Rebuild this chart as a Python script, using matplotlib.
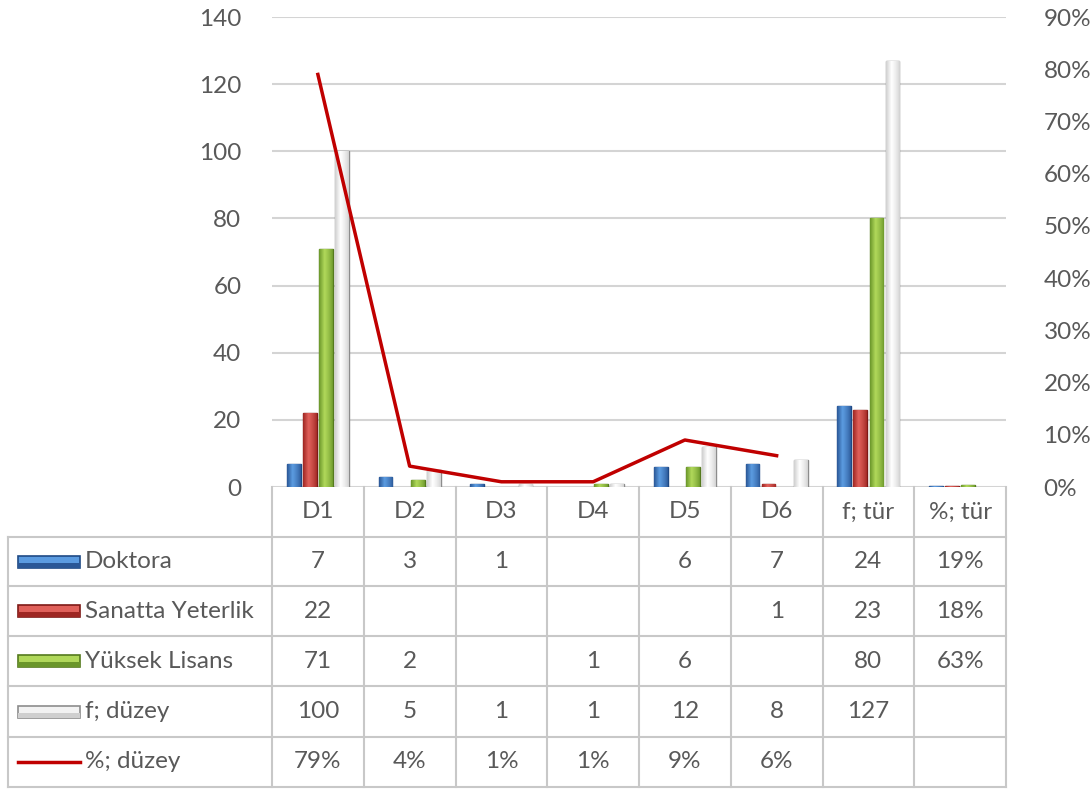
import matplotlib
matplotlib.use("Agg")
import matplotlib.pyplot as plt
from matplotlib.lines import Line2D
from matplotlib.patches import Rectangle
from matplotlib.colors import LinearSegmentedColormap
import numpy as np

categories = ["D1", "D2", "D3", "D4", "D5", "D6", "f; tür", "%; tür"]
doktora = [7, 3, 1, None, 6, 7, 24, 0.19]
sanatta = [22, None, None, None, None, 1, 23, 0.18]
yuksek = [71, 2, None, 1, 6, None, 80, 0.63]
f_duzey = [100, 5, 1, 1, 12, 8, 127, None]
pct_duzey = [0.79, 0.04, 0.01, 0.01, 0.09, 0.06, None, None]

# name, values, dark, light, edge
bar_series = [
    ("Doktora", doktora, "#2a5796", "#5b9be0", "#1f4a85"),
    ("Sanatta Yeterlik", sanatta, "#9e2622", "#e0605a", "#7e1a17"),
    ("Yüksek Lisans", yuksek, "#6a962a", "#b0d85a", "#557a1e"),
    ("f; düzey", f_duzey, "#cfcfcf", "#ffffff", "#8c8c8c"),
]

plt.rcParams['font.family'] = ['Lato', 'DejaVu Sans']
txt = "#595959"
grid_c = "#d4d4d4"
tab_c = "#c8c8c8"
fs = 17.5

W, H = 1091, 792
fig = plt.figure(figsize=(W / 100, H / 100), dpi=100)
x0, x1, y_top, y_bot = 272, 1006, 17, 487
ax = fig.add_axes([x0 / W, 1 - y_bot / H, (x1 - x0) / W, (y_bot - y_top) / H])
ax2 = ax.twinx()

# horizontal gradient profile (dark edge, light middle, dark edge)
prof = np.concatenate([np.linspace(0, 1, 40), np.linspace(1, 0, 60) ** 0.7])[None, :]


def grad_bar(a, xc, h, w, dark, light, edge):
    rect = a.bar(xc, h, width=w, color=dark, edgecolor=edge, linewidth=1.0, zorder=3)[0]
    cm = LinearSegmentedColormap.from_list("g", [dark, light])
    im = a.imshow(prof, cmap=cm, aspect="auto", extent=(xc - w / 2, xc + w / 2, 0, h),
                  zorder=3.5, interpolation="bilinear")
    im.set_clip_path(rect)


n = len(categories)
x = np.arange(n)
bw = 0.15
step = 0.175
for i, (name, vals, dark, light, edge) in enumerate(bar_series):
    off = (i - 1.5) * step
    for j, v in enumerate(vals):
        if v is None:
            continue
        grad_bar(ax, x[j] + off, v, bw, dark, light, edge)

ax.set_xlim(-0.5, n - 0.5)
ax.set_ylim(0, 140)
ax.set_yticks(range(0, 141, 20))
ax.set_xticks([])
ax.grid(axis="y", color=grid_c, linewidth=1.5, zorder=0)
ax.set_axisbelow(True)

lx = [i for i, v in enumerate(pct_duzey) if v is not None]
ly = [v for v in pct_duzey if v is not None]
ax2.plot(lx, ly, color="#c00000", linewidth=2.5, zorder=5)
ax2.set_ylim(0, 0.9)
ax2.set_yticks(np.arange(0, 0.91, 0.1))
ax2.set_yticklabels([f"{int(round(t * 100))}%" for t in np.arange(0, 0.91, 0.1)])

for a in (ax, ax2):
    for s in a.spines.values():
        s.set_visible(False)
    a.tick_params(length=0, labelsize=fs, labelcolor=txt)
ax.tick_params(axis="y", pad=22)
ax2.tick_params(axis="y", pad=27)

# data table below the plot
col_edges = np.linspace(x0, x1, n + 1)
row_edges = [487, 537, 586, 636, 686, 737, 787]
left = 8


def fx(px):
    return px / W


def fy(py):
    return 1 - py / H


def hline(xa, xb, y):
    fig.add_artist(Line2D([fx(xa), fx(xb)], [fy(y), fy(y)], color=tab_c, lw=1.5))


def vline(xx, ya, yb):
    fig.add_artist(Line2D([fx(xx), fx(xx)], [fy(ya), fy(yb)], color=tab_c, lw=1.5))


for ce in col_edges:
    vline(ce, row_edges[0], row_edges[-1])
vline(left, row_edges[1], row_edges[-1])
for r in row_edges[1:]:
    hline(left, x1, r)

hy = (row_edges[0] + row_edges[1]) / 2
for j, c in enumerate(categories):
    fig.text(fx((col_edges[j] + col_edges[j + 1]) / 2), fy(hy), c,
             ha="center", va="center", fontsize=fs, color=txt)

rows = [s for s in bar_series] + [("%; düzey", pct_duzey, None, None, None)]
for r, (name, vals, dark, light, edge) in enumerate(rows):
    cy = (row_edges[r + 1] + row_edges[r + 2]) / 2
    if dark is not None:
        fig.add_artist(Rectangle((fx(18), fy(cy + 6)), fx(62), 12 / H,
                                 facecolor=light if r < 3 else "#f2f2f2", edgecolor=edge, lw=1.2))
        fig.add_artist(Rectangle((fx(18), fy(cy + 6)), fx(62), 5 / H,
                                 facecolor=dark, edgecolor="none"))
    else:
        fig.add_artist(Line2D([fx(18), fx(80)], [fy(cy), fy(cy)], color="#c00000", lw=2.5))
    fig.text(fx(85), fy(cy), name, ha="left", va="center", fontsize=fs, color=txt)
    for j, v in enumerate(vals):
        if v is None:
            continue
        if r == 4 or j == n - 1:
            s = f"{int(round(v * 100))}%"
        else:
            s = str(v)
        fig.text(fx((col_edges[j] + col_edges[j + 1]) / 2), fy(cy), s,
                 ha="center", va="center", fontsize=fs, color=txt)

fig.savefig("out.png", dpi=100)
